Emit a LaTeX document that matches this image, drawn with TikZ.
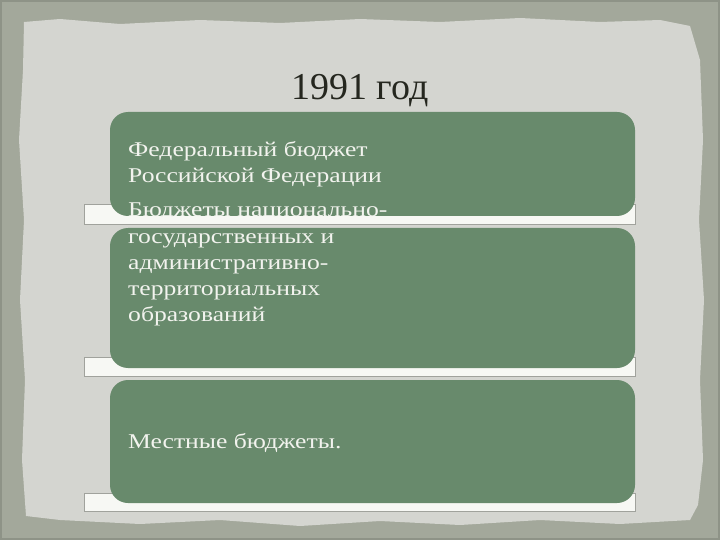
\documentclass[tikz,border=0pt]{standalone}
\usepackage{fontspec}
\setmainfont{Liberation Serif}
\newfontfamily\boxfont[FakeStretch=1.22]{Liberation Serif}
\definecolor{frameC}{HTML}{A3A89B}
\definecolor{frameD}{HTML}{8E9387}
\definecolor{paperC}{HTML}{D4D5D0}
\definecolor{greenC}{HTML}{688A6C}
\definecolor{barC}{HTML}{F7F8F4}
\definecolor{barB}{HTML}{A0A29C}
\definecolor{titleC}{HTML}{25271F}
\definecolor{boxtext}{HTML}{F2F3EE}
\tikzset{
  greenbox/.style={fill=greenC, rounded corners=18pt},
  whitebar/.style={fill=barC, draw=barB, line width=0.8pt},
  boxlabel/.style={text=boxtext, font=\boxfont\fontsize{21}{26}\selectfont, align=left, anchor=base west, inner sep=0pt},
}
\begin{document}
\begin{tikzpicture}[x=1pt,y=-1pt]
\useasboundingbox (0,0) rectangle (720,540);
% outer frame
\fill[frameC] (0,0) rectangle (720,540);
\draw[frameD, line width=2pt] (1,1) rectangle (719,539);
% torn paper
\fill[paperC] (24,22) -- (60,19) -- (120,24) -- (200,20) -- (280,23) -- (360,19) -- (440,22) -- (520,18) -- (600,22) -- (660,20) -- (690,26) -- (700,60) -- (703,140) -- (699,220) -- (704,300) -- (700,380) -- (703,460) -- (698,505) -- (690,520) -- (620,524) -- (540,520) -- (460,525) -- (380,521) -- (300,526) -- (220,520) -- (140,524) -- (60,520) -- (26,516) -- (22,460) -- (25,380) -- (20,300) -- (24,220) -- (19,140) -- (23,70) -- cycle;
% title
\node[text=titleC, font=\fontsize{38}{44}\selectfont, anchor=base, inner sep=0pt] (title) at (360,100) {1991 год};
% bars
\draw[whitebar] (84,204) rectangle (635,224);
\draw[whitebar] (84,357) rectangle (635,376);
\draw[whitebar] (84,493) rectangle (635,511);
% green boxes
\fill[greenbox] (110,112) rectangle (635,216);
\fill[greenbox] (110,228) rectangle (635,368);
\fill[greenbox] (110,380) rectangle (635,503);
% texts
\node[boxlabel] (t1) at (128,183) {Федеральный бюджет\\Российской Федерации};
\begin{scope}
  \clip (84,100) rectangle (636,216.5);
  \node[boxlabel] (t2a) at (128,217) {Бюджеты национально-};
\end{scope}
\node[boxlabel] (t2b) at (128,321) {государственных и\\административно-\\территориальных\\образований};
\node[boxlabel] (t3) at (128,448) {Местные бюджеты.};
\end{tikzpicture}
\end{document}
